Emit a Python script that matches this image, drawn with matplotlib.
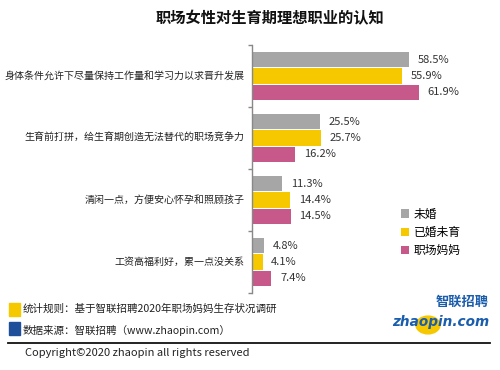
import matplotlib
matplotlib.use("Agg")
import matplotlib.pyplot as plt
from matplotlib.patches import Rectangle, Circle

plt.rcParams['font.family'] = ['Noto Sans CJK SC', 'DejaVu Sans']

categories = ['身体条件允许下尽量保持工作量和学习力以求晋升发展',
              '生育前打拼，给生育期创造无法替代的职场竞争力',
              '清闲一点，方便安心怀孕和照顾孩子',
              '工资高福利好，累一点没关系']
series_names = ['未婚', '已婚未育', '职场妈妈']
unmarried = [58.5, 25.5, 11.3, 4.8]
married_no_kids = [55.9, 25.7, 14.4, 4.1]
mothers = [61.9, 16.2, 14.5, 7.4]
colors = ['#A6A6A6', '#F5C800', '#C6588A']

fig = plt.figure(figsize=(5, 3.7), dpi=100)
fig.patch.set_facecolor('white')

W, H = 500, 370
ax = fig.add_axes([251.5 / W, 1 - 293 / H, 216 / W, 248 / H])

step = 0.266
height = 0.242
for j, values in enumerate([unmarried, married_no_kids, mothers]):
    ys = [g + (j - 1) * step for g in range(len(categories))]
    ax.barh(ys, values, height=height, color=colors[j], label=series_names[j])
    for y, v in zip(ys, values):
        ax.text(v + 3.2, y, f'{v}%', va='center', ha='left', fontsize=8, color='#333333')

ax.set_xlim(0, 80)
ax.set_ylim(3.5, -0.5)
ax.set_yticks([g + 0.5 for g in range(-1, len(categories))])
ax.set_yticklabels([])
ax.tick_params(axis='y', length=3, width=1, color='#888888', direction='out')
ax.set_xticks([])
for side in ['top', 'right', 'bottom']:
    ax.spines[side].set_visible(False)
ax.spines['left'].set_color('#888888')
ax.spines['left'].set_linewidth(1)

for g, cat in enumerate(categories):
    ax.text(-2.6, g, cat, ha='right', va='center', fontsize=7.2, color='#222222')

handles, labels = ax.get_legend_handles_labels()
fig.legend(handles, labels, loc='upper left', bbox_to_anchor=(390 / W, 1 - 197 / H),
           frameon=False, fontsize=8.5, handlelength=0.7, handleheight=0.7,
           handletextpad=0.4, labelspacing=0.45)

fig.text(270 / W, 1 - 18 / H, '职场女性对生育期理想职业的认知', ha='center', va='center',
         fontsize=11, fontweight='bold', color='#111111')

# footer
fig.patches.append(Rectangle((9 / W, 1 - 316 / H), 11 / W, 13 / H, transform=fig.transFigure,
                             color='#F5C800'))
fig.patches.append(Rectangle((9 / W, 1 - 335 / H), 11 / W, 13 / H, transform=fig.transFigure,
                             color='#1F4E9A'))
fig.text(23 / W, 1 - 309 / H, '统计规则：基于智联招聘2020年职场妈妈生存状况调研',
         ha='left', va='center', fontsize=7.6, color='#222222')
fig.text(23 / W, 1 - 330 / H, '数据来源：智联招聘（www.zhaopin.com）',
         ha='left', va='center', fontsize=7.6, color='#222222')
fig.add_artist(plt.Line2D([8 / W, 490 / W], [1 - 343 / H, 1 - 343 / H],
                          transform=fig.transFigure, color='#111111', linewidth=1.3))
fig.text(25 / W, 1 - 353 / H, 'Copyright©2020 zhaopin all rights reserved',
         ha='left', va='center', fontsize=8, color='#222222')

# logo
fig.patches.append(Circle((428 / W, 1 - 325 / H), 12 / W, transform=fig.transFigure,
                          color='#F5C800', zorder=1))
fig.text(489 / W, 1 - 302 / H, '智联招聘', ha='right', va='center', fontsize=9.5,
         fontweight='bold', style='italic', color='#1A5DAD', zorder=3)
fig.text(489 / W, 1 - 322 / H, 'zhaopin.com', ha='right', va='center', fontsize=9.8,
         fontweight='bold', style='italic', color='#1A5DAD', family='DejaVu Sans', zorder=3)

fig.savefig('out.png', dpi=100, facecolor='white')
